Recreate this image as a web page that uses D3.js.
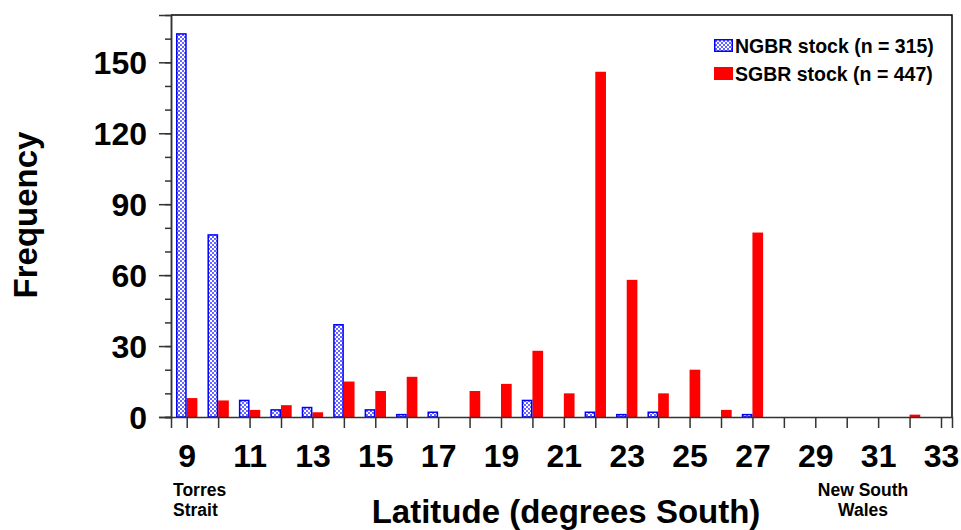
<!DOCTYPE html>
<html>
<head>
<meta charset="utf-8">
<script src="https://cdn.jsdelivr.net/npm/d3@7"></script>
<style>
  body { margin: 0; background: #fff; }
  text { font-family: "Liberation Sans", Arial, sans-serif; font-weight: bold; fill: #000; }
</style>
</head>
<body>
<div id="chart"></div>
<script>
//************* data ***************/
var latitudes = [9, 10, 11, 12, 13, 14, 15, 16, 17, 18, 19, 20, 21, 22, 23, 24, 25, 26, 27, 28, 29, 30, 31, 32, 33];
var ngbrCounts = [162, 77, 7, 3, 4, 39, 3, 1, 2, 0, 0, 7, 0, 2, 1, 2, 0, 0, 1, 0, 0, 0, 0, 0, 0];
var sgbrCounts = [8, 7, 3, 5, 2, 15, 11, 17, 0, 11, 14, 28, 10, 146, 58, 10, 20, 3, 78, 0, 0, 0, 0, 1, 0];
var seriesNames = ["NGBR stock (n = 315)", "SGBR stock (n = 447)"];
var yMajorTicks = [0, 30, 60, 90, 120, 150];
var yMinorTicks = [0, 10, 20, 30, 40, 50, 60, 70, 80, 90, 100, 110, 120, 130, 140, 150, 160];
var xTickLabels = [9, 11, 13, 15, 17, 19, 21, 23, 25, 27, 29, 31, 33];

//************* set dimensions ***************/
var W = 961, H = 530;
var margin = {left: 171, right: 9, top: 15, bottom: 113};
var width = W - margin.left - margin.right,
    height = H - margin.top - margin.bottom;
var barW = 0.34;   // bar width in latitude units

var svg = d3.select("#chart")
  .append("svg")
    .attr("width", W)
    .attr("height", H);

var defs = svg.append("defs");
var pat = defs.append("pattern")
    .attr("id", "xhatch")
    .attr("patternUnits", "userSpaceOnUse")
    .attr("width", 4)
    .attr("height", 4);
pat.append("rect").attr("width", 4).attr("height", 4).attr("fill", "#fff");
pat.append("path")
    .attr("d", "M0,0L4,4M4,0L0,4")
    .attr("stroke", "#0000ff")
    .attr("stroke-width", 0.6);

var g = svg.append("g")
    .attr("transform", "translate(" + margin.left + "," + margin.top + ")");

//************* scales ***************/
var x = d3.scaleLinear().domain([8.5, 33.35]).range([0, width]);
var y = d3.scaleLinear().domain([0, 170]).range([height, 0]);

//************* frame (top + right) ***************/
g.append("path")
    .attr("d", "M0,0H" + width + "V" + height)
    .attr("fill", "none")
    .attr("stroke", "#000")
    .attr("stroke-width", 1.5);

//************* bars ***************/
var rows = latitudes.map(function(lat, i) { return {lat: lat, n: ngbrCounts[i], s: sgbrCounts[i]}; });

g.append("g")
  .selectAll("rect")
  .data(rows.filter(function(d) { return d.s > 0; }))
  .enter()
  .append("rect")
    .attr("x", function(d) { return x(d.lat); })
    .attr("width", function(d) { return x(d.lat + barW) - x(d.lat); })
    .attr("y", function(d) { return y(d.s); })
    .attr("height", function(d) { return y(0) - y(d.s); })
    .attr("fill", "#ff0000");

g.append("g")
  .selectAll("rect")
  .data(rows.filter(function(d) { return d.n > 0; }))
  .enter()
  .append("rect")
    .attr("x", function(d) { return x(d.lat - barW) + 0.75; })
    .attr("width", function(d) { return x(d.lat) - x(d.lat - barW) - 1.5; })
    .attr("y", function(d) { return y(d.n); })
    .attr("height", function(d) { return y(0) - y(d.n); })
    .attr("fill", "url(#xhatch)")
    .attr("stroke", "#0000ff")
    .attr("stroke-width", 1.5);

//************* axes ***************/
var yMinor = g.append("g")
    .call(d3.axisLeft(y).tickValues(yMinorTicks).tickSize(6).tickFormat(""));
var yMajor = g.append("g")
    .call(d3.axisLeft(y).tickValues(yMajorTicks).tickSize(12).tickPadding(12));
yMajor.selectAll("text")
    .style("font-size", "32px")
    .attr("x", -24)
    .attr("dy", "0.36em");

var xAxis = g.append("g")
    .attr("transform", "translate(0," + height + ")")
    .call(d3.axisBottom(x).tickValues(latitudes).tickSize(11)
      .tickFormat(function(d) { return xTickLabels.indexOf(d) >= 0 ? d : ""; }));
xAxis.selectAll("text")
    .style("font-size", "32px")
    .attr("y", 50)
    .attr("dy", 0);

[yMinor, yMajor, xAxis].forEach(function(a) {
  a.selectAll("line").attr("stroke", "#333").attr("stroke-width", 1.5);
  a.select(".domain").attr("stroke", "#333").attr("stroke-width", 1.5);
});

//************* axis titles ***************/
svg.append("text")
    .attr("transform", "translate(37," + 215 + ") rotate(-90)")
    .attr("text-anchor", "middle")
    .style("font-size", "33px")
    .text("Frequency");

svg.append("text")
    .attr("x", 566)
    .attr("y", 523)
    .attr("text-anchor", "middle")
    .style("font-size", "33px")
    .text("Latitude (degrees South)");

svg.append("text").attr("x", 173).attr("y", 496).style("font-size", "17.5px").text("Torres");
svg.append("text").attr("x", 173).attr("y", 516).style("font-size", "17.5px").text("Strait");
svg.append("text").attr("x", 863).attr("y", 496).attr("text-anchor", "middle").style("font-size", "17.5px").text("New South");
svg.append("text").attr("x", 863).attr("y", 516).attr("text-anchor", "middle").style("font-size", "17.5px").text("Wales");

//************* legend ***************/
var legend = svg.append("g").attr("transform", "translate(714,39)");
var items = legend.selectAll("g")
    .data(seriesNames)
    .enter()
    .append("g")
      .attr("transform", function(d, i) { return "translate(0," + (i * 28) + ")"; });
items.append("rect")
    .attr("x", function(d, i) { return i == 0 ? 0.75 : 0; })
    .attr("y", function(d, i) { return i == 0 ? 0.75 : 0; })
    .attr("width", function(d, i) { return i == 0 ? 17.5 : 19; })
    .attr("height", function(d, i) { return i == 0 ? 11.5 : 13; })
    .attr("fill", function(d, i) { return i == 0 ? "url(#xhatch)" : "#ff0000"; })
    .attr("stroke", function(d, i) { return i == 0 ? "#0000ff" : "none"; })
    .attr("stroke-width", 1.5);
items.append("text")
    .attr("x", 21)
    .attr("y", 13.5)
    .style("font-size", "19.5px")
    .text(function(d) { return d; });
</script>
</body>
</html>
